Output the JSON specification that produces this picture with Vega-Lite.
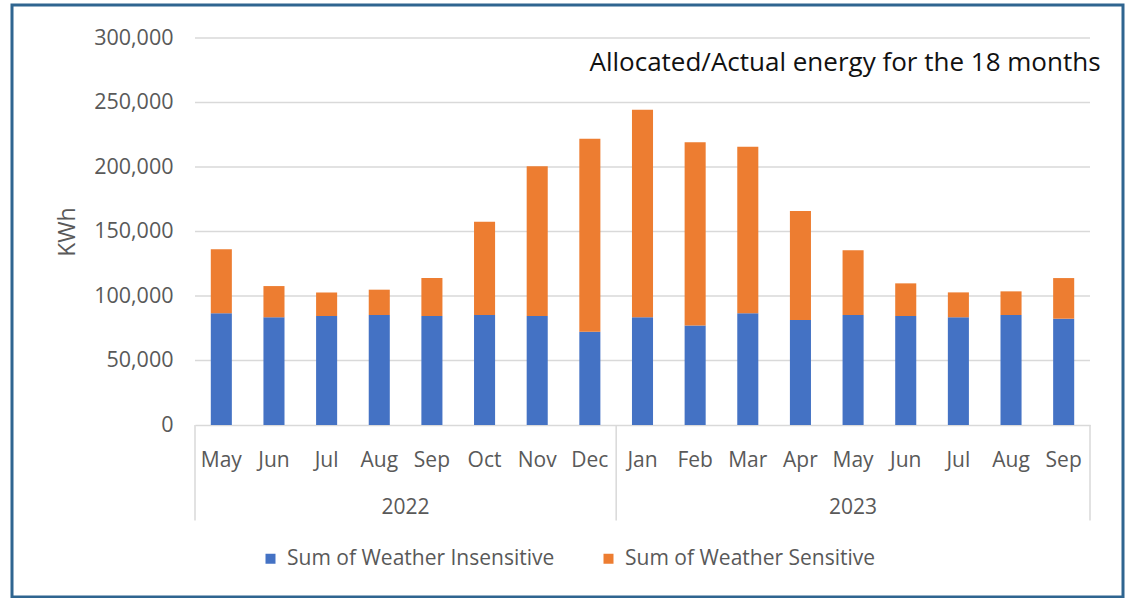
{
  "$schema": "https://vega.github.io/schema/vega-lite/v6.json",
  "autosize": {"type": "none"},
  "width": 1111,
  "height": 592,
  "padding": {"left": 12, "top": 5, "right": 4, "bottom": 1},
  "background": "white",
  "config": {
    "font": "Open Sans",
    "view": {"stroke": "#2F6590", "strokeWidth": 3, "fill": null}
  },
  "datasets": {
    "energy": [
      {"month": "May 2022", "series": "Sum of Weather Insensitive", "kwh": 86600},
      {"month": "May 2022", "series": "Sum of Weather Sensitive", "kwh": 49600},
      {"month": "Jun 2022", "series": "Sum of Weather Insensitive", "kwh": 83500},
      {"month": "Jun 2022", "series": "Sum of Weather Sensitive", "kwh": 24200},
      {"month": "Jul 2022", "series": "Sum of Weather Insensitive", "kwh": 84500},
      {"month": "Jul 2022", "series": "Sum of Weather Sensitive", "kwh": 18300},
      {"month": "Aug 2022", "series": "Sum of Weather Insensitive", "kwh": 85250},
      {"month": "Aug 2022", "series": "Sum of Weather Sensitive", "kwh": 19650},
      {"month": "Sep 2022", "series": "Sum of Weather Insensitive", "kwh": 84500},
      {"month": "Sep 2022", "series": "Sum of Weather Sensitive", "kwh": 29400},
      {"month": "Oct 2022", "series": "Sum of Weather Insensitive", "kwh": 85250},
      {"month": "Oct 2022", "series": "Sum of Weather Sensitive", "kwh": 72350},
      {"month": "Nov 2022", "series": "Sum of Weather Insensitive", "kwh": 84500},
      {"month": "Nov 2022", "series": "Sum of Weather Sensitive", "kwh": 116000},
      {"month": "Dec 2022", "series": "Sum of Weather Insensitive", "kwh": 72300},
      {"month": "Dec 2022", "series": "Sum of Weather Sensitive", "kwh": 149600},
      {"month": "Jan 2023", "series": "Sum of Weather Insensitive", "kwh": 83500},
      {"month": "Jan 2023", "series": "Sum of Weather Sensitive", "kwh": 160900},
      {"month": "Feb 2023", "series": "Sum of Weather Insensitive", "kwh": 77200},
      {"month": "Feb 2023", "series": "Sum of Weather Sensitive", "kwh": 141900},
      {"month": "Mar 2023", "series": "Sum of Weather Insensitive", "kwh": 86600},
      {"month": "Mar 2023", "series": "Sum of Weather Sensitive", "kwh": 129100},
      {"month": "Apr 2023", "series": "Sum of Weather Insensitive", "kwh": 81400},
      {"month": "Apr 2023", "series": "Sum of Weather Sensitive", "kwh": 84450},
      {"month": "May 2023", "series": "Sum of Weather Insensitive", "kwh": 85250},
      {"month": "May 2023", "series": "Sum of Weather Sensitive", "kwh": 50150},
      {"month": "Jun 2023", "series": "Sum of Weather Insensitive", "kwh": 84500},
      {"month": "Jun 2023", "series": "Sum of Weather Sensitive", "kwh": 25300},
      {"month": "Jul 2023", "series": "Sum of Weather Insensitive", "kwh": 83500},
      {"month": "Jul 2023", "series": "Sum of Weather Sensitive", "kwh": 19300},
      {"month": "Aug 2023", "series": "Sum of Weather Insensitive", "kwh": 85250},
      {"month": "Aug 2023", "series": "Sum of Weather Sensitive", "kwh": 18350},
      {"month": "Sep 2023", "series": "Sum of Weather Insensitive", "kwh": 82400},
      {"month": "Sep 2023", "series": "Sum of Weather Sensitive", "kwh": 31500}
    ],
    "grid": [{"v": 50000}, {"v": 100000}, {"v": 150000}, {"v": 200000}, {"v": 250000}, {"v": 300000}],
    "bounds": [{"b": 0}, {"b": 8}, {"b": 17}],
    "years": [{"year": "2022", "c": 4}, {"year": "2023", "c": 12.5}],
    "title": [{"t": "Allocated/Actual energy for the 18 months", "c": 17.2, "v": 281000}]
  },
  "layer": [
    {
      "data": {"name": "grid"},
      "mark": {"type": "rule", "stroke": "#D9D9D9", "strokeWidth": 1.5},
      "encoding": {
        "x": {"datum": 0, "type": "quantitative", "scale": {"domain": [0, 17], "range": [183, 1078], "nice": false, "zero": false}, "axis": null},
        "x2": {"datum": 17},
        "y": {"field": "v", "type": "quantitative"}
      }
    },
    {
      "data": {"name": "bounds"},
      "mark": {"type": "rule", "stroke": "#D9D9D9", "strokeWidth": 1.5},
      "encoding": {
        "x": {"field": "b", "type": "quantitative", "scale": {"domain": [0, 17], "range": [183, 1078], "nice": false, "zero": false}, "axis": null},
        "y": {"datum": 0, "type": "quantitative"},
        "y2": {"datum": -74000}
      }
    },
    {
      "data": {"name": "energy"},
      "mark": {"type": "bar"},
      "encoding": {
        "x": {
          "field": "month", "type": "nominal", "sort": null,
          "scale": {"range": [183, 1078], "paddingInner": 0.6, "paddingOuter": 0.3},
          "axis": {
            "title": null, "orient": "bottom", "offset": -172,
            "labelExpr": "split(datum.value, ' ')[0]",
            "labelAngle": 0, "labelFontSize": 21, "labelColor": "#595959", "labelPadding": 24,
            "ticks": false, "domain": true, "domainColor": "#D9D9D9", "domainWidth": 1.5, "grid": false
          }
        },
        "y": {
          "field": "kwh", "type": "quantitative", "stack": "zero",
          "scale": {"domain": [0, 300000], "range": [420, 33], "nice": false},
          "axis": {
            "title": "KWh", "orient": "left", "offset": -183,
            "values": [0, 50000, 100000, 150000, 200000, 250000, 300000],
            "format": ",d", "labelFontSize": 21.5, "labelColor": "#595959", "labelPadding": 22,
            "ticks": false, "domain": false, "grid": false,
            "titleFontSize": 23, "titleFontWeight": "normal", "titleColor": "#595959", "titlePadding": 14
          }
        },
        "color": {
          "field": "series", "type": "nominal",
          "scale": {"domain": ["Sum of Weather Insensitive", "Sum of Weather Sensitive"], "range": ["#4472C4", "#ED7D31"]},
          "legend": {
            "title": null, "orient": "none", "legendX": 248, "legendY": 543, "direction": "horizontal",
            "symbolType": "square", "symbolSize": 100, "symbolStrokeWidth": 0,
            "labelFontSize": 21, "labelColor": "#595959", "labelOffset": 6, "columnPadding": 43, "labelLimit": 400
          }
        },
        "order": {"field": "series", "sort": "ascending"}
      }
    },
    {
      "data": {"name": "years"},
      "mark": {"type": "text", "fontSize": 21, "color": "#595959", "baseline": "middle", "align": "center"},
      "encoding": {
        "x": {"field": "c", "type": "quantitative", "scale": {"domain": [0, 17], "range": [183, 1078], "nice": false, "zero": false}, "axis": null},
        "y": {"datum": -64400, "type": "quantitative"},
        "text": {"field": "year"}
      }
    },
    {
      "data": {"name": "title"},
      "mark": {"type": "text", "fontSize": 26, "font": "Open Sans", "color": "#111111", "baseline": "middle", "align": "right"},
      "encoding": {
        "x": {"field": "c", "type": "quantitative", "scale": {"domain": [0, 17], "range": [183, 1078], "nice": false, "zero": false}, "axis": null},
        "y": {"field": "v", "type": "quantitative"},
        "text": {"field": "t"}
      }
    }
  ],
  "resolve": {"scale": {"x": "independent"}}
}
